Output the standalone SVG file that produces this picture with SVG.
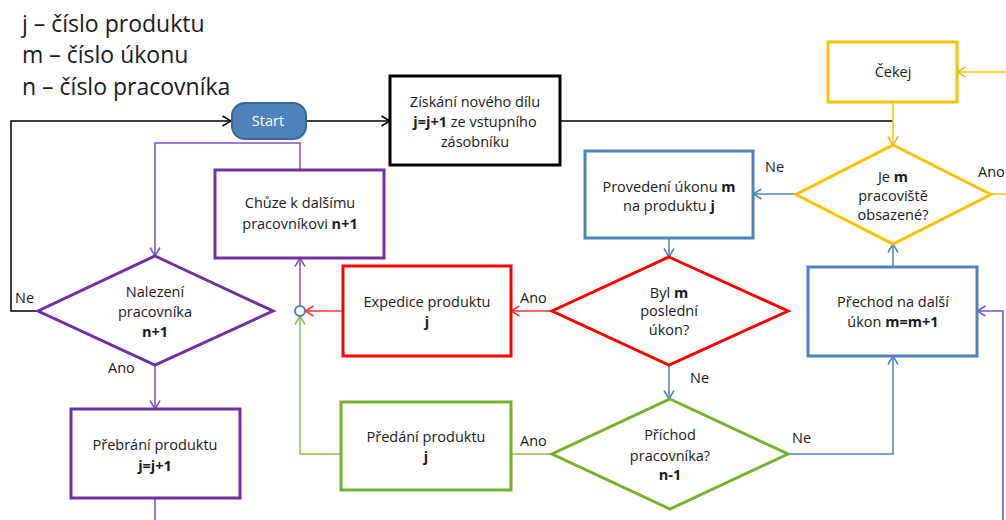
<svg xmlns="http://www.w3.org/2000/svg" width="1006" height="520" viewBox="0 0 1006 520">
  <style>
    text { font-family: "Open Sans", "Liberation Sans", sans-serif; fill: #1a1a1a; }
    .legend { font-size: 23px; }
    .t { font-size: 14.5px; text-anchor: middle; }
    .lbl { font-size: 14.5px; }
    .b { font-weight: bold; }
    .box { fill: #fff; stroke-width: 3; }
    .k { stroke: #000; }
    .blue { stroke: #4f81bd; }
    .red { stroke: #ff0000; }
    .green { stroke: #77b02a; }
    .purple { stroke: #7030a0; }
    .yellow { stroke: #ffc000; }
    .c { fill: none; stroke-width: 1.5; }
    .ck { stroke: #000; }
    .cb { stroke: #4f81bd; }
    .cr { stroke: #ff3333; }
    .cg { stroke: #8cc04a; }
    .cp { stroke: #8050c0; }
    .cy { stroke: #ffc000; }
  </style>
  <defs>
    <marker id="ah-k" viewBox="0 0 10 12" refX="9.5" refY="6" markerWidth="10" markerHeight="12" markerUnits="userSpaceOnUse" orient="auto"><path d="M1,1 L9.5,6 L1,11" fill="none" stroke="#000" stroke-width="1.5"/></marker>
    <marker id="ah-b" viewBox="0 0 10 12" refX="9.5" refY="6" markerWidth="10" markerHeight="12" markerUnits="userSpaceOnUse" orient="auto"><path d="M1,1 L9.5,6 L1,11" fill="none" stroke="#4f81bd" stroke-width="1.5"/></marker>
    <marker id="ah-r" viewBox="0 0 10 12" refX="9.5" refY="6" markerWidth="10" markerHeight="12" markerUnits="userSpaceOnUse" orient="auto"><path d="M1,1 L9.5,6 L1,11" fill="none" stroke="#ff3333" stroke-width="1.5"/></marker>
    <marker id="ah-g" viewBox="0 0 10 12" refX="9.5" refY="6" markerWidth="10" markerHeight="12" markerUnits="userSpaceOnUse" orient="auto"><path d="M1,1 L9.5,6 L1,11" fill="none" stroke="#8cc04a" stroke-width="1.5"/></marker>
    <marker id="ah-p" viewBox="0 0 10 12" refX="9.5" refY="6" markerWidth="10" markerHeight="12" markerUnits="userSpaceOnUse" orient="auto"><path d="M1,1 L9.5,6 L1,11" fill="none" stroke="#8050c0" stroke-width="1.5"/></marker>
    <marker id="ah-y" viewBox="0 0 10 12" refX="9.5" refY="6" markerWidth="10" markerHeight="12" markerUnits="userSpaceOnUse" orient="auto"><path d="M1,1 L9.5,6 L1,11" fill="none" stroke="#e8b020" stroke-width="1.5"/></marker>
  </defs>

  <rect width="1006" height="520" fill="#fff"/>

  <!-- legend -->
  <g id="legend">
    <text class="legend" x="22" y="32">j – číslo produktu</text>
    <text class="legend" x="22" y="63">m – číslo úkonu</text>
    <text class="legend" x="22" y="95">n – číslo pracovníka</text>
  </g>

  <!-- connectors -->
  <g id="connectors">
    <path class="c ck" d="M38,311 H11 V121 H231" marker-end="url(#ah-k)"/>
    <path class="c ck" d="M306,121 H390" marker-end="url(#ah-k)"/>
    <path class="c ck" d="M560,121 H893"/>
    <path class="c cy" d="M893,102 V145" marker-end="url(#ah-y)"/>
    <path class="c cy" d="M1006,72 H957" marker-end="url(#ah-y)"/>
    <path class="c cy" d="M991,194 H1006"/>
    <path class="c cb" d="M796,194 H753" marker-end="url(#ah-b)"/>
    <path class="c cb" d="M669,238 V257" marker-end="url(#ah-b)"/>
    <path class="c cr" d="M552,311 H511" marker-end="url(#ah-r)"/>
    <path class="c cr" d="M343,311 H305" marker-end="url(#ah-r)"/>
    <path class="c cp" d="M300,306 V258" marker-end="url(#ah-p)"/>
    <path class="c cg" d="M341,454 H300 V316" marker-end="url(#ah-g)"/>
    <path class="c cg" d="M552,454 H511"/>
    <path class="c cb" d="M669,365 V399" marker-end="url(#ah-b)"/>
    <path class="c cb" d="M788,454 H893 V356" marker-end="url(#ah-b)"/>
    <path class="c cb" d="M893,267 V244" marker-end="url(#ah-b)"/>
    <path class="c cp" d="M1003,520 V311 H977" marker-end="url(#ah-p)"/>
    <path class="c cp" d="M300,170 V143 H155 V256" marker-end="url(#ah-p)"/>
    <path class="c cp" d="M155,365 V409" marker-end="url(#ah-p)"/>
    <path class="c cp" d="M155,498 V520"/>
    <circle cx="300" cy="311" r="5" fill="#fff" stroke="#4f81bd" stroke-width="2"/>
    <!-- branch labels -->
    <text class="lbl" x="15" y="303">Ne</text>
    <text class="lbl" x="108" y="373">Ano</text>
    <text class="lbl" x="520" y="303">Ano</text>
    <text class="lbl" x="520" y="446">Ano</text>
    <text class="lbl" x="690" y="383">Ne</text>
    <text class="lbl" x="792" y="443">Ne</text>
    <text class="lbl" x="765" y="172">Ne</text>
    <text class="lbl" x="978" y="177">Ano</text>
  </g>

  <g id="start">
    <rect x="232" y="103" width="74" height="36" rx="13" fill="#4f81bd" stroke="#3a6595" stroke-width="2"/>
    <text class="t" x="268" y="126" style="fill:#fff">Start</text>
  </g>

  <g id="ziskani">
    <rect class="box k" x="390" y="76" width="170" height="89"/>
    <text class="t" x="475" y="107">Získání nového dílu</text>
    <text class="t" x="475" y="127"><tspan class="b">j=j+1</tspan> ze vstupního</text>
    <text class="t" x="475" y="147">zásobníku</text>
  </g>

  <g id="cekej">
    <rect class="box yellow" x="828" y="42" width="129" height="60"/>
    <text class="t" x="893" y="77">Čekej</text>
  </g>

  <g id="obsazene">
    <polygon class="box yellow" points="893,145 991,194.5 893,244 796,194.5"/>
    <text class="t" x="893" y="182">Je <tspan class="b">m</tspan></text>
    <text class="t" x="893" y="201">pracoviště</text>
    <text class="t" x="893" y="220">obsazené?</text>
  </g>

  <g id="provedeni">
    <rect class="box blue" x="585" y="151" width="168" height="87"/>
    <text class="t" x="669" y="192">Provedení úkonu <tspan class="b">m</tspan></text>
    <text class="t" x="669" y="211">na produktu <tspan class="b">j</tspan></text>
  </g>

  <g id="posledni">
    <polygon class="box red" points="669,257 788,311 669,365 552,311"/>
    <text class="t" x="669" y="298">Byl <tspan class="b">m</tspan></text>
    <text class="t" x="669" y="316">poslední</text>
    <text class="t" x="669" y="335">úkon?</text>
  </g>

  <g id="expedice">
    <rect class="box red" x="343" y="266" width="168" height="90"/>
    <text class="t" x="427" y="307">Expedice produktu</text>
    <text class="t b" x="427" y="327">j</text>
  </g>

  <g id="chuze">
    <rect class="box purple" x="215" y="170" width="169" height="88"/>
    <text class="t" x="300" y="208">Chůze k dalšímu</text>
    <text class="t" x="300" y="229">pracovníkovi <tspan class="b">n+1</tspan></text>
  </g>

  <g id="nalezeni">
    <polygon class="box purple" points="155,256 273,311 155,365 38,311"/>
    <text class="t" x="155" y="297">Nalezení</text>
    <text class="t" x="155" y="317">pracovníka</text>
    <text class="t b" x="155" y="337">n+1</text>
  </g>

  <g id="prebrani">
    <rect class="box purple" x="71" y="409" width="169" height="89"/>
    <text class="t" x="155" y="450">Přebrání produktu</text>
    <text class="t b" x="155" y="471">j=j+1</text>
  </g>

  <g id="predani">
    <rect class="box green" x="341" y="402" width="170" height="88"/>
    <text class="t" x="426" y="442">Předání produktu</text>
    <text class="t b" x="426" y="462">j</text>
  </g>

  <g id="prichod">
    <polygon class="box green" points="670,399 788,454 670,509 552,454"/>
    <text class="t" x="670" y="440">Příchod</text>
    <text class="t" x="670" y="461">pracovníka?</text>
    <text class="t b" x="670" y="480">n-1</text>
  </g>

  <g id="prechod">
    <rect class="box blue" x="808" y="267" width="169" height="89"/>
    <text class="t" x="893" y="307">Přechod na další</text>
    <text class="t" x="893" y="327">úkon <tspan class="b">m=m+1</tspan></text>
  </g>
</svg>
